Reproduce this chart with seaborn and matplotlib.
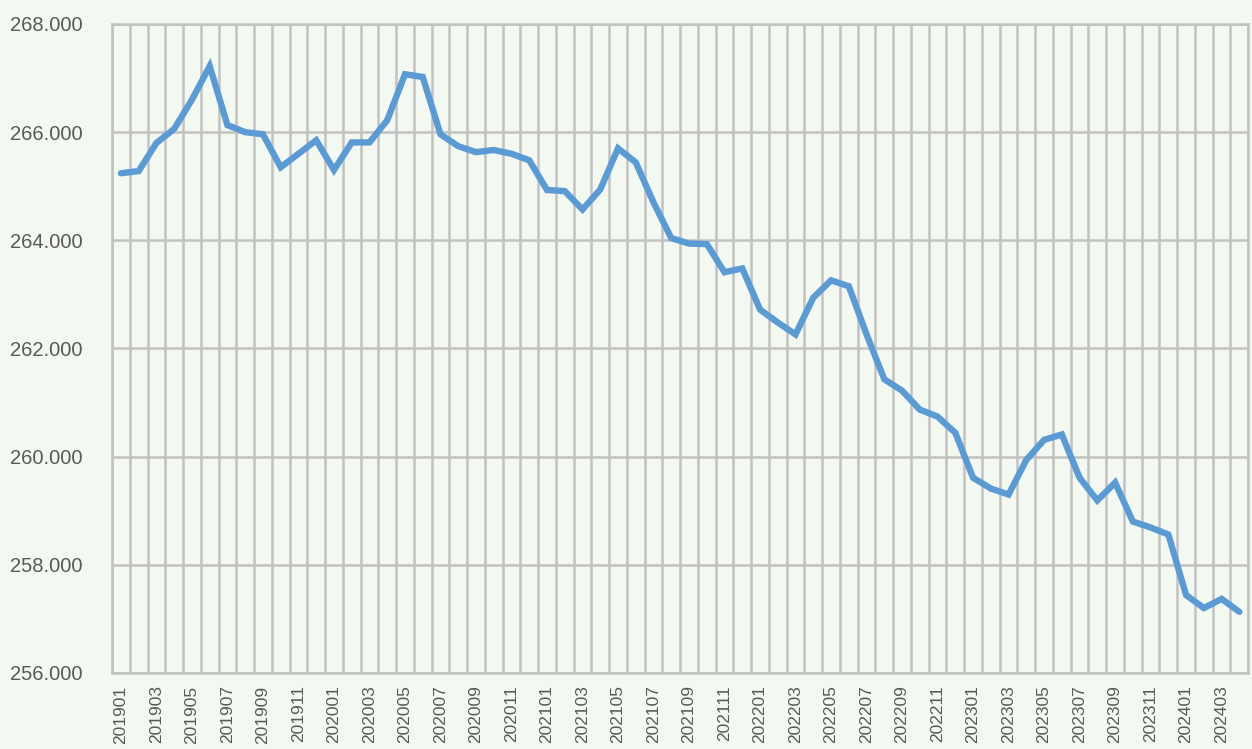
import numpy as np
import pandas as pd
import seaborn as sns
import matplotlib.pyplot as plt
from matplotlib.ticker import FixedLocator

# monthly series 201901 .. 202404
months = [f"{y}{m:02d}" for y in range(2019, 2025) for m in range(1, 13)][:64]
values = [265.24, 265.28, 265.80, 266.06, 266.60, 267.22, 266.13, 266.00,
          265.96, 265.35, 265.60, 265.85, 265.30, 265.81, 265.81, 266.22,
          267.07, 267.02, 265.96, 265.74, 265.63, 265.67, 265.60, 265.48,
          264.93, 264.91, 264.57, 264.94, 265.70, 265.44, 264.70, 264.04,
          263.94, 263.93, 263.41, 263.48, 262.72, 262.48, 262.26, 262.94,
          263.26, 263.15, 262.26, 261.43, 261.22, 260.87, 260.74, 260.44,
          259.61, 259.41, 259.30, 259.94, 260.31, 260.41, 259.61, 259.19,
          259.52, 258.80, 258.69, 258.56, 257.44, 257.20, 257.37, 257.13]
y_ticks = [256, 258, 260, 262, 264, 266, 268]

df = pd.DataFrame({'month': months, 'value': values})

bg = '#f3f8f1'
txt = '#595959'
grid_c = '#c2c2c2'

sns.set_style('white')
plt.rcParams['font.family'] = ['Liberation Sans', 'DejaVu Sans']

fig = plt.figure(figsize=(12.52, 7.49), dpi=100, facecolor=bg)
ax = fig.add_axes([0.0895, 0.1015, 0.9075, 0.8665])
ax.set_facecolor(bg)

sns.lineplot(data=df, x='month', y='value', ax=ax, color='#5b9bd5',
             linewidth=4.6, solid_joinstyle='miter', sort=False)

n = len(months)
ax.set_xlim(-0.5, n - 0.5)
ax.set_ylim(256, 268)
ax.set_yticks(y_ticks)
ax.set_yticklabels([f"{v:.3f}" for v in y_ticks])
ax.set_xticks(range(0, n, 2))
ax.set_xticklabels(months[::2], rotation=90)
ax.xaxis.set_minor_locator(FixedLocator(np.arange(-0.5, n, 1)))

ax.grid(True, axis='y', which='major', color=grid_c, linewidth=1.8)
ax.grid(True, axis='x', which='minor', color=grid_c, linewidth=1.8)
ax.grid(False, axis='x', which='major')
ax.tick_params(axis='both', which='both', length=0, colors=txt)
ax.tick_params(axis='y', labelsize=14.5, pad=21)
ax.tick_params(axis='x', labelsize=12.5, pad=9)
for s in ax.spines.values():
    s.set_color(grid_c)
    s.set_linewidth(1.8)
ax.set_xlabel('')
ax.set_ylabel('')

fig.savefig('out.png', dpi=100, facecolor=bg)
